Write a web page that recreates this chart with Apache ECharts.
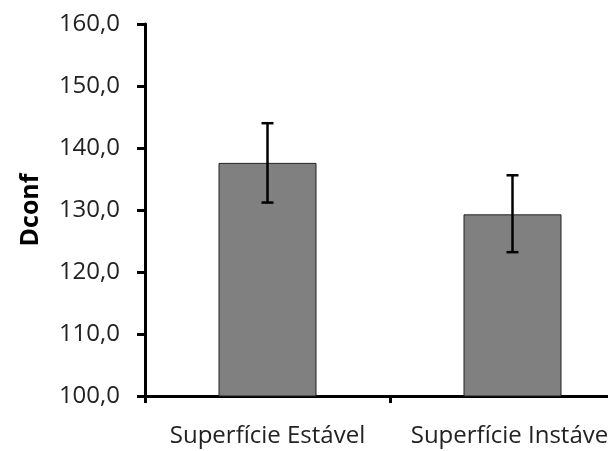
<!DOCTYPE html>
<html>
<head>
<meta charset="utf-8">
<script src="https://cdn.jsdelivr.net/npm/echarts@6/dist/echarts.min.js"></script>
<style>html,body{margin:0;padding:0;background:#fff;}#c{width:608px;height:451px;}</style>
</head>
<body>
<div id="c"></div>
<script>
const categories = ['Superfície Estável', 'Superfície Instável'];
const means = [137.6, 129.3];
const errLow = [131.2, 123.2];
const errHigh = [144.0, 135.6];
const yTicks = [100, 110, 120, 130, 140, 150, 160];

const chart = echarts.init(document.getElementById('c'), null, {renderer: 'canvas'});
const FONT = 'Open Sans';
chart.setOption({
  animation: false,
  backgroundColor: '#ffffff',
  grid: {left: 145, width: 490, top: 24, height: 372, containLabel: false, outerBoundsMode: 'none'},
  xAxis: {
    type: 'category',
    data: categories,
    axisLine: {lineStyle: {color: '#000', width: 3}},
    axisTick: {show: true, length: 7, lineStyle: {color: '#000', width: 3}, alignWithLabel: false},
    axisLabel: {color: '#222', fontFamily: FONT, fontSize: 24, margin: 28, interval: 0, hideOverlap: false}
  },
  yAxis: {
    type: 'value',
    min: yTicks[0], max: yTicks[yTicks.length - 1], interval: 10,
    name: 'Dconf',
    nameLocation: 'middle',
    nameGap: 102,
    nameRotate: 90,
    nameTextStyle: {color: '#000', fontFamily: FONT, fontSize: 25, fontWeight: 'bold'},
    axisLine: {show: true, lineStyle: {color: '#000', width: 3}},
    axisTick: {show: true, length: 8, lineStyle: {color: '#000', width: 3}},
    splitLine: {show: false},
    axisLabel: {color: '#222', fontFamily: FONT, fontSize: 24, margin: 25,
      formatter: v => v.toFixed(1).replace('.', ',')}
  },
  series: [
    {
      type: 'bar',
      data: means,
      barWidth: '40%',
      itemStyle: {color: '#808080', borderColor: '#222', borderWidth: 1},
      z: 2
    },
    {
      type: 'custom',
      z: 5,
      data: categories.map((c, i) => [i, errLow[i], errHigh[i]]),
      renderItem: function (params, api) {
        const lo = api.coord([api.value(0), api.value(1)]);
        const hi = api.coord([api.value(0), api.value(2)]);
        const hw = 6;
        const style = {stroke: '#000', lineWidth: 2.5};
        return {
          type: 'group',
          children: [
            {type: 'line', shape: {x1: lo[0], y1: lo[1], x2: hi[0], y2: hi[1]}, style: style},
            {type: 'line', shape: {x1: lo[0] - hw, y1: lo[1], x2: lo[0] + hw, y2: lo[1]}, style: style},
            {type: 'line', shape: {x1: hi[0] - hw, y1: hi[1], x2: hi[0] + hw, y2: hi[1]}, style: style}
          ]
        };
      }
    }
  ]
});
</script>
</body>
</html>
